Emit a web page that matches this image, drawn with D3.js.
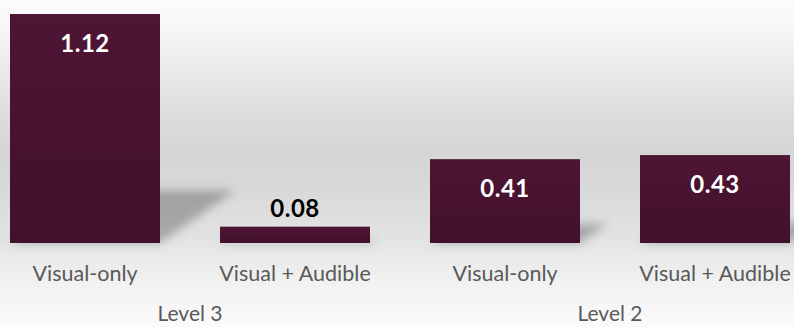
<!DOCTYPE html>
<html>
<head>
<meta charset="utf-8">
<script src="https://cdn.jsdelivr.net/npm/d3@7"></script>
<style>
  html, body { margin: 0; padding: 0; background: #fff; }
  svg { display: block; }
</style>
</head>
<body>
<div id="chart"></div>
<script>
// Mean values per condition, grouped by level
const conditions = ["Visual-only", "Visual + Audible", "Visual-only", "Visual + Audible"];
const levels = ["Level 3", "Level 3", "Level 2", "Level 2"];
const values = [1.12, 0.08, 0.41, 0.43];
const valueLabels = ["1.12", "0.08", "0.41", "0.43"];
const groupNames = ["Level 3", "Level 2"];

const W = 794, H = 327;
const baseline = 243;
const font = "Lato, 'Open Sans', sans-serif";

const svg = d3.select("#chart").append("svg")
  .attr("width", W).attr("height", H);

const defs = svg.append("defs");

// Backdrop: soft grey band fading to white at top and bottom
const bg = defs.append("linearGradient").attr("id", "bg")
  .attr("x1", 0).attr("y1", 0).attr("x2", 0).attr("y2", 1);
[[0, "#fcfcfc"], [0.1, "#f6f6f6"], [0.3, "#e2e2e2"], [0.45, "#d5d5d5"], [0.55, "#d7d7d7"],
 [0.72, "#e2e2e2"], [0.85, "#f0f0f0"], [1, "#fbfbfb"]]
  .forEach(([o, c]) => bg.append("stop").attr("offset", o).attr("stop-color", c));

const barGrad = defs.append("linearGradient").attr("id", "barFill")
  .attr("x1", 0).attr("y1", 0).attr("x2", 0).attr("y2", 1);
barGrad.append("stop").attr("offset", 0).attr("stop-color", "#4e1534");
barGrad.append("stop").attr("offset", 1).attr("stop-color", "#41112b");

const blur = defs.append("filter").attr("id", "shadowBlur")
  .attr("x", "-50%").attr("y", "-50%").attr("width", "200%").attr("height", "200%");
blur.append("feGaussianBlur").attr("stdDeviation", 5);

svg.append("rect").attr("width", W).attr("height", H).attr("fill", "url(#bg)");

const idx = d3.range(values.length);

const x = d3.scaleBand()
  .domain(idx)
  .range([-20, 820])
  .paddingInner(2 / 7)
  .paddingOuter(1 / 7);

const y = d3.scaleLinear()
  .domain([0, 1.12])
  .range([baseline, 14]);

// Receding floor shadows behind each bar
const shadowLean = 0.33, shadowRise = 0.23;
svg.append("g").attr("filter", "url(#shadowBlur)")
  .selectAll("path").data(idx).join("path")
  .attr("d", i => {
    const x0 = x(i), x1 = x(i) + x.bandwidth();
    const h = baseline - y(values[i]);
    const dx = h * shadowLean, dy = h * shadowRise;
    return `M${x0},${baseline} L${x1},${baseline} L${x1 + dx},${baseline - dy} L${x0 + dx},${baseline - dy} Z`;
  })
  .attr("fill", "#000")
  .attr("fill-opacity", 0.26);

// Bars
svg.append("g").selectAll("rect").data(idx).join("rect")
  .attr("x", i => x(i))
  .attr("y", i => y(values[i]))
  .attr("width", x.bandwidth())
  .attr("height", i => baseline - y(values[i]))
  .attr("fill", "url(#barFill)");

// Value labels: inside tall bars, above the short one
svg.append("g").selectAll("text").data(idx).join("text")
  .attr("x", i => x(i) + x.bandwidth() / 2)
  .attr("y", i => {
    const h = baseline - y(values[i]);
    return h > 50 ? y(values[i]) + 38 : y(values[i]) - 10;
  })
  .attr("text-anchor", "middle")
  .attr("font-family", font)
  .attr("font-weight", "bold")
  .attr("font-size", 24)
  .attr("letter-spacing", 0.5)
  .attr("fill", i => (baseline - y(values[i]) > 50 ? "#ffffff" : "#000000"))
  .text(i => valueLabels[i]);

// Category axis
const axis = d3.axisBottom(x).tickSize(0).tickPadding(0).tickFormat(i => conditions[i]);
const axisG = svg.append("g").attr("transform", `translate(0,${baseline})`).call(axis);
axisG.select(".domain").remove();
axisG.selectAll("text")
  .attr("dy", null)
  .attr("y", 38)
  .attr("font-family", font)
  .attr("font-size", 21.5)
  .attr("fill", "#595959");

// Group labels centred under each pair of bars
svg.append("g").selectAll("text").data(groupNames).join("text")
  .attr("x", g => {
    const members = idx.filter(i => levels[i] === g);
    return d3.mean(members, i => x(i) + x.bandwidth() / 2);
  })
  .attr("y", 321)
  .attr("text-anchor", "middle")
  .attr("font-family", font)
  .attr("font-size", 21)
  .attr("fill", "#595959")
  .text(g => g);
</script>
</body>
</html>
